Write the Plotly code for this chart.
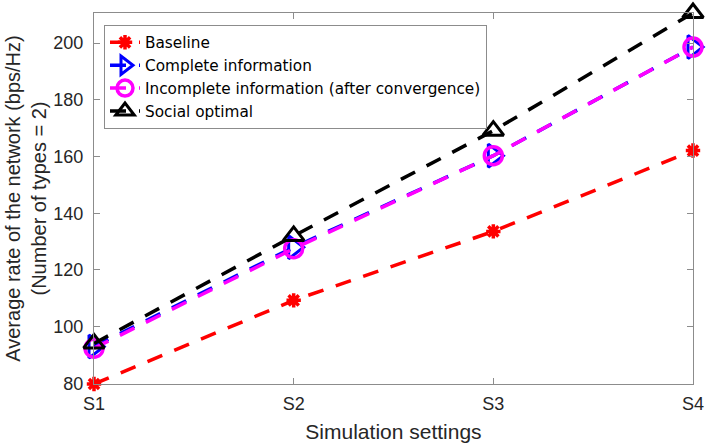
import plotly.graph_objects as go

categories = ["S1", "S2", "S3", "S4"]
x_pos = [1, 2, 3, 4]
baseline = [79.8, 109.3, 133.6, 162.1]
complete_info = [93.0, 128.0, 160.3, 198.6]
incomplete_info = [92.4, 127.5, 160.3, 198.6]
social_optimal = [94.1, 132.0, 169.1, 210.6]
y_ticks = [80, 100, 120, 140, 160, 180, 200]

FONT = "Liberation Sans, Arial, sans-serif"
LEG_FONT = "DejaVu Sans, sans-serif"
DASH = "16px,13px"
LW = 3.5

fig = go.Figure()
fig.add_trace(go.Scatter(
    x=x_pos, y=baseline, name="Baseline", mode="lines+markers", cliponaxis=False,
    line=dict(color="#FF0000", width=LW, dash=DASH),
    marker=dict(symbol="asterisk-open", size=12, color="#FF0000",
                line=dict(color="#FF0000", width=3.5))))
fig.add_trace(go.Scatter(
    x=x_pos, y=complete_info, name="Complete information", mode="lines+markers",
    cliponaxis=False,
    line=dict(color="#0000FF", width=LW, dash=DASH),
    marker=dict(symbol="triangle-right-open", size=20, color="#0000FF",
                line=dict(color="#0000FF", width=3))))
fig.add_trace(go.Scatter(
    x=x_pos, y=incomplete_info, name="Incomplete information (after convergence)",
    mode="lines+markers", cliponaxis=False,
    line=dict(color="#FF00FF", width=LW, dash=DASH),
    marker=dict(symbol="circle-open", size=18, color="#FF00FF",
                line=dict(color="#FF00FF", width=3.5))))
fig.add_trace(go.Scatter(
    x=x_pos, y=social_optimal, name="Social optimal", mode="lines+markers",
    cliponaxis=False,
    line=dict(color="#000000", width=LW, dash=DASH),
    marker=dict(symbol="triangle-up-open", size=18, color="#000000",
                line=dict(color="#000000", width=3))))

axis_common = dict(
    showgrid=False, zeroline=False, showline=True, linecolor="#8c8c8c",
    linewidth=1, mirror="ticks", ticks="inside", ticklen=6, automargin=False,
    tickcolor="#8c8c8c", tickfont=dict(size=18, color="#262626", family=FONT),
)

fig.update_layout(
    width=706, height=443,
    margin=dict(l=94, r=13, t=13, b=59),
    paper_bgcolor="white", plot_bgcolor="white",
    font=dict(family=FONT, color="#262626"),
    showlegend=True,
    hovermode=False,
    legend=dict(
        x=0.0167, y=0.968, xanchor="left", yanchor="top",
        bgcolor="white", bordercolor="#8c8c8c", borderwidth=1,
        font=dict(size=15.3, family=LEG_FONT, color="#000000"),
        tracegroupgap=0, itemwidth=30,
    ),
    xaxis=dict(
        **axis_common, range=[1, 4], tickvals=x_pos, ticktext=categories,
        ticklabelstandoff=3, ticklabeloverflow="allow",
        title=dict(text="Simulation settings", font=dict(size=21, family=FONT),
                   standoff=12),
    ),
    yaxis=dict(
        **axis_common, range=[79.8, 210.6], tickvals=y_ticks,
        ticklabelstandoff=6,
        title=dict(text="Average rate of the network (bps/Hz)<br>(Number of types = 2)",
                   font=dict(size=20, family=FONT), standoff=1),
    ),
)

fig.write_html(
    "out.html",
    config={"displayModeBar": False},
    post_script="document.body.style.margin='0';document.body.style.overflow='hidden';",
)
